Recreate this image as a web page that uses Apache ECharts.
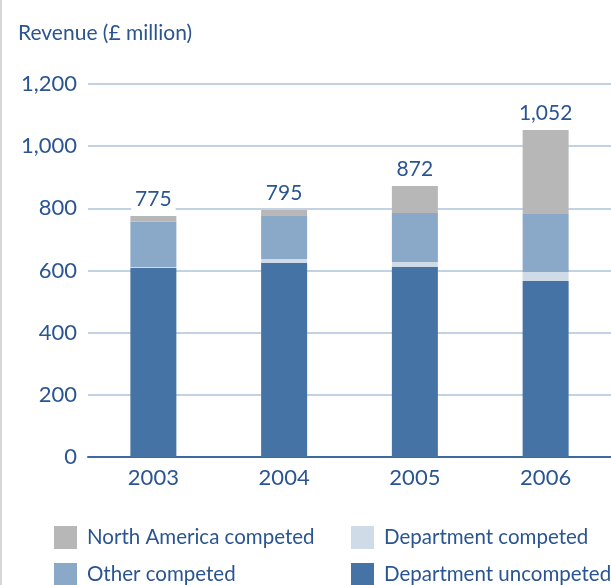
<!DOCTYPE html>
<html><head><meta charset="utf-8">
<script src="https://cdn.jsdelivr.net/npm/echarts@6/dist/echarts.min.js"></script>
<style>html,body{margin:0;padding:0;background:#fff}#c{width:611px;height:585px;border-left:2px solid #d6d6d6;box-sizing:border-box}</style>
</head><body><div id="c"></div>
<script>
const years = ['2003','2004','2005','2006'];
const deptUncompeted = [608, 624, 611, 566];
const deptCompeted = [3, 13, 16, 29];
const otherCompeted = [146, 141, 158, 187];
const naCompeted = [18, 17, 87, 270];
const totals = [775, 795, 872, 1052];
const yTicks = [0, 200, 400, 600, 800, 1000, 1200];

const txt = '#2b5592';
const font = 'Lato, "DejaVu Sans", sans-serif';
const chart = echarts.init(document.getElementById('c'));
function seg(name, data, color, extra) {
  return Object.assign({name, type:'bar', stack:'rev', data, barWidth:46,
    itemStyle:{color}, emphasis:{disabled:true}}, extra||{});
}
const legendBase = {top:526, orient:'vertical', itemWidth:23, itemHeight:23, itemGap:14,
  padding:0, height:100, icon:'rect', selectedMode:false,
  textStyle:{color:txt, fontSize:20.5, fontFamily:font, padding:[0,0,0,5]}};
chart.setOption({
  animation:false,
  textStyle:{fontFamily:font},
  title:{text:'Revenue (£ million)', left:11, top:18,
    textStyle:{color:txt, fontSize:21, fontWeight:'normal', fontFamily:font}},
  grid:{left:86, right:0, top:84, bottom:128, containLabel:false},
  xAxis:{type:'category', data:years,
    axisLine:{lineStyle:{color:'#3d6aa0', width:2}}, axisTick:{show:false},
    axisLabel:{color:txt, fontSize:22, margin:10, fontFamily:font}},
  yAxis:{type:'value', min:0, max:1200, interval:200,
    axisLine:{show:false}, axisTick:{show:false},
    splitLine:{lineStyle:{color:'#c3d2e3', width:2}},
    axisLabel:{color:txt, fontSize:22, margin:11, fontFamily:font,
      formatter:v=>yTicks.includes(v)? v.toLocaleString('en-GB'):''}},
  legend:[
    Object.assign({left:52, data:['North America competed','Other competed']}, legendBase),
    Object.assign({left:349, data:['Department competed','Department uncompeted']}, legendBase)
  ],
  series:[
    seg('Department uncompeted', deptUncompeted, '#4573a5'),
    seg('Department competed', deptCompeted, '#cfdbe7'),
    seg('Other competed', otherCompeted, '#8aa8c7'),
    seg('North America competed', naCompeted, '#b7b7b7', {
      label:{show:true, position:'top', distance:6, color:txt, fontSize:21,
        fontFamily:font, backgroundColor:'#fff', padding:[0,4],
        formatter:p=>totals[p.dataIndex].toLocaleString('en-GB')}})
  ]
});
</script></body></html>
